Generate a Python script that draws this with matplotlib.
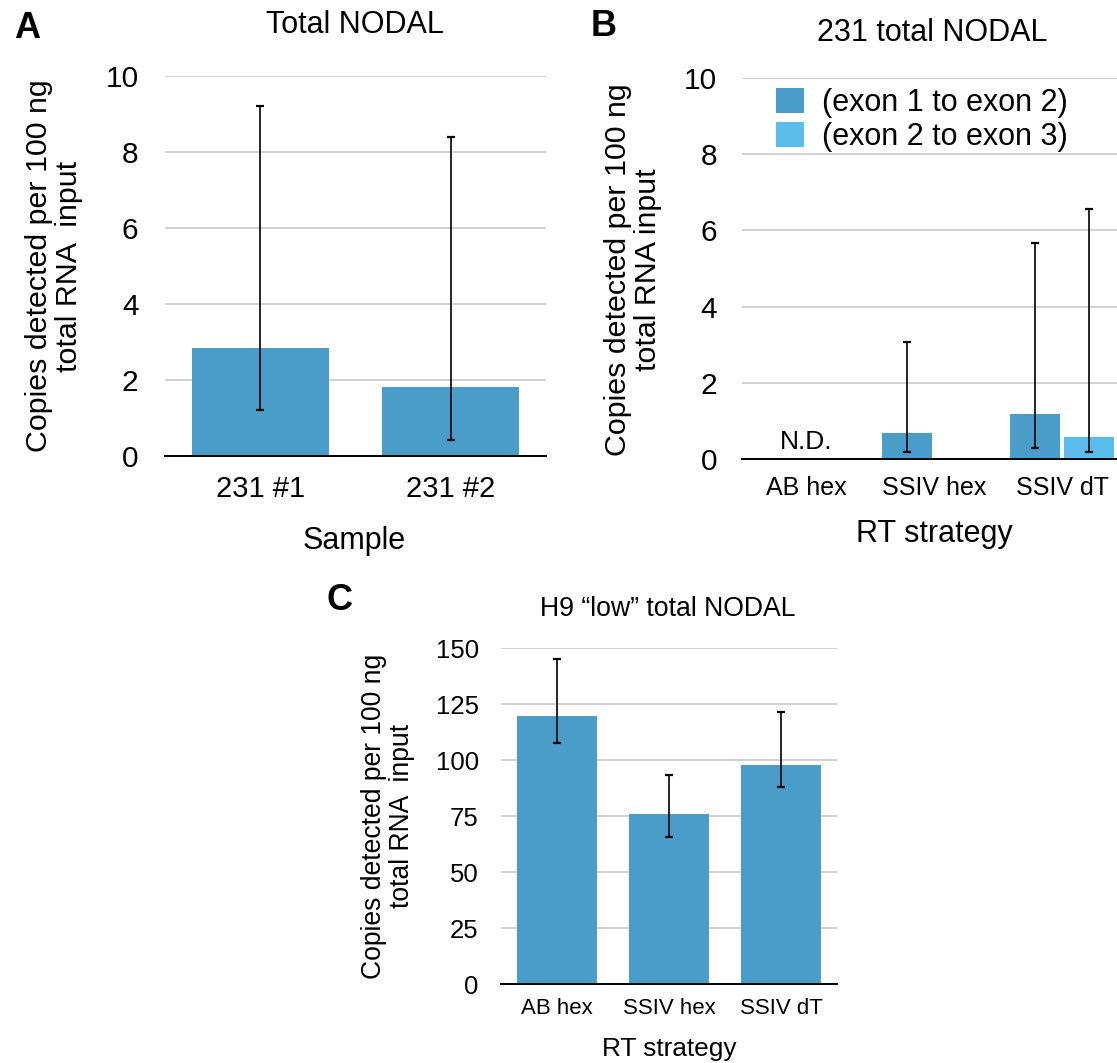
import numpy as np
import matplotlib
matplotlib.use("Agg")
import matplotlib.pyplot as plt

plt.rcParams["font.family"] = ["Liberation Sans", "DejaVu Sans"]

# panel A data
sample_labels = ["231 #1", "231 #2"]
a_mean = [2.83, 1.82]
a_low = [1.22, 0.43]
a_high = [9.21, 8.40]

# panel B data
rt_labels = ["AB hex", "SSIV hex", "SSIV dT"]
b_exon12 = [np.nan, 0.69, 1.17]
b_exon12_low = [np.nan, 0.19, 0.29]
b_exon12_high = [np.nan, 3.07, 5.66]
b_exon23 = [np.nan, np.nan, 0.57]
b_exon23_low = [np.nan, np.nan, 0.18]
b_exon23_high = [np.nan, np.nan, 6.56]

# panel C data
c_mean = [119.6, 75.9, 97.8]
c_low = [107.7, 65.8, 88.0]
c_high = [145.0, 93.5, 121.4]

dark_blue = "#4a9cc9"
light_blue = "#5bbdeb"
grid_col = "#c6c6c6"

W, H = 1117, 1063
fig = plt.figure(figsize=(W / 100, H / 100), dpi=100)


def px_axes(left, right, top, bottom):
    return fig.add_axes([left / W, 1 - bottom / H, (right - left) / W, (bottom - top) / H])


def style(ax, ylim, yticks, ysize, xsize, ypad, xpad):
    ax.set_ylim(*ylim)
    ax.set_yticks(yticks)
    for s in ["top", "right", "left"]:
        ax.spines[s].set_visible(False)
    ax.spines["bottom"].set_color("black")
    ax.spines["bottom"].set_linewidth(1.4)
    ax.spines["bottom"].set_zorder(5)
    ax.yaxis.grid(True, color=grid_col, linewidth=1.1)
    ax.set_axisbelow(True)
    ax.tick_params(axis="y", length=0, labelsize=ysize, pad=ypad)
    ax.tick_params(axis="x", length=0, labelsize=xsize, pad=xpad)


def errs(mean, low, high):
    mean = np.array(mean)
    return [mean - np.array(low), np.array(high) - mean]


ekw = dict(fmt="none", ecolor="black", elinewidth=1.2, capsize=3, capthick=1.6, zorder=4)

# ---- A ----
axA = px_axes(165, 546, 76, 456)
xa = np.arange(len(sample_labels))
axA.bar(xa, a_mean, width=0.72, color=dark_blue, zorder=2)
axA.errorbar(xa, a_mean, yerr=errs(a_mean, a_low, a_high), **ekw)
axA.set_xlim(-0.5, 1.5)
axA.set_xticks(xa)
axA.set_xticklabels(sample_labels)
style(axA, (0, 10), [0, 2, 4, 6, 8, 10], 21.5, 21, 19, 14)

# ---- B ----
axB = px_axes(742, 1126, 78, 459)
xb = np.arange(len(rt_labels))
bars1 = axB.bar(xb - 0.21, b_exon12, width=0.39, color=dark_blue, zorder=2,
                label="(exon 1 to exon 2)")
bars2 = axB.bar(xb + 0.21, b_exon23, width=0.39, color=light_blue, zorder=2,
                label="(exon 2 to exon 3)")
axB.errorbar(xb - 0.21, b_exon12, yerr=errs(b_exon12, b_exon12_low, b_exon12_high), **ekw)
axB.errorbar(xb + 0.21, b_exon23, yerr=errs(b_exon23, b_exon23_low, b_exon23_high), **ekw)
axB.text(0, 0.12, "N.D.", ha="center", va="bottom", fontsize=19)
axB.set_xlim(-0.5, 2.5)
axB.set_xticks(xb)
axB.set_xticklabels(rt_labels)
style(axB, (0, 10), [0, 2, 4, 6, 8, 10], 21.5, 18, 18, 12)
axB.legend(handles=[bars1, bars2], loc="upper left", bbox_to_anchor=(0.088, 0.975),
           frameon=False, fontsize=22, handlelength=0.92, handleheight=0.92,
           handletextpad=0.6, labelspacing=0.12, borderpad=0, borderaxespad=0)

# ---- C ----
axC = px_axes(501, 837, 648, 984)
xc = np.arange(len(rt_labels))
axC.bar(xc, c_mean, width=0.71, color=dark_blue, zorder=2)
axC.errorbar(xc, c_mean, yerr=errs(c_mean, c_low, c_high), **ekw)
axC.set_xlim(-0.5, 2.5)
axC.set_xticks(xc)
axC.set_xticklabels(rt_labels)
style(axC, (0, 150), [0, 25, 50, 75, 100, 125, 150], 18.5, 16, 16, 10)

# titles, labels, panel letters
def ftext(x, y, s, **kw):
    fig.text(x / W, 1 - y / H, s, ha="center", va="center", **kw)

ftext(27, 28, "A", fontsize=26, fontweight="bold")
ftext(604, 26, "B", fontsize=26, fontweight="bold")
ftext(340, 601, "C", fontsize=26, fontweight="bold")

ftext(355, 25, "Total NODAL", fontsize=22)
ftext(932, 33, "231 total NODAL", fontsize=22)
ftext(668, 609, "H9 \u201clow\u201d total NODAL", fontsize=19.2)

ftext(54, 266, "Copies detected per 100 ng\ntotal RNA  input", fontsize=21.9,
      rotation=90, linespacing=1.08)
ftext(633, 270, "Copies detected per 100 ng\ntotal RNA input", fontsize=21.9,
      rotation=90, linespacing=1.08)
ftext(388, 816, "Copies detected per 100 ng\ntotal RNA  input", fontsize=19.1,
      rotation=90, linespacing=1.08)

ftext(354, 541, "Sample", fontsize=22)
ftext(934, 534, "RT strategy", fontsize=22)
ftext(669, 1049, "RT strategy", fontsize=18.9)

fig.savefig("out.png", dpi=100)
